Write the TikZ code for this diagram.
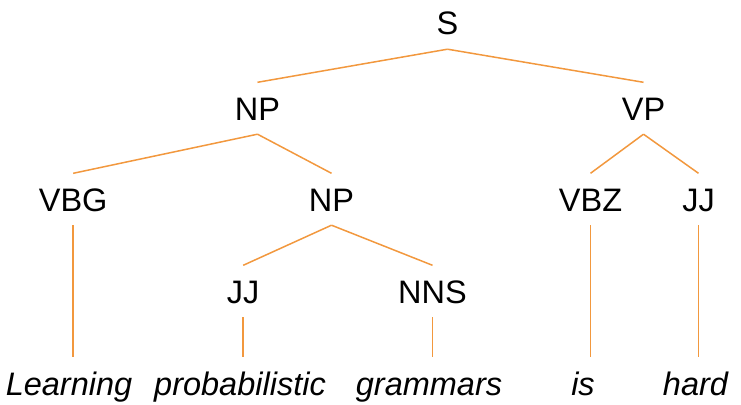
\documentclass[tikz,border=0pt]{standalone}
\usepackage{fontspec}
\setmainfont{Liberation Sans}
\definecolor{branch}{RGB}{242,152,62}
\begin{document}
\begin{tikzpicture}[x=1pt,y=-1pt,
    cat/.style={font=\fontsize{32.5}{39}\selectfont, anchor=base, inner xsep=0pt,
      inner ysep=14pt, text height=23.5pt, text depth=0pt},
    word/.style={cat, font=\fontsize{32.5}{39}\selectfont\itshape},
    edge/.style={draw=branch, line width=1.5pt}]
      \useasboundingbox (0,0) rectangle (741,404);
      % categories
      \node[cat] (S)    at (447.5,35)  {S};
      \node[cat] (NPa)  at (257.5,120) {NP};
      \node[cat] (VP)   at (643.5,120) {VP};
      \node[cat] (VBG)  at (73.2,211)  {VBG};
      \node[cat] (NPb)  at (331.5,211) {NP};
      \node[cat] (VBZ)  at (590.5,211) {VBZ};
      \node[cat] (JJb)  at (698.5,211) {JJ};
      \node[cat] (JJa)  at (243.2,303) {JJ};
      \node[cat] (NNS)  at (432.5,303) {NNS};
      % words
      \node[word] (learning) at (69,395)    {Learning};
      \node[word] (prob)     at (240,395)   {probabilistic};
      \node[word] (gram)     at (429,395)   {grammars};
      \node[word] (is)       at (583,395)   {is};
      \node[word] (hard)     at (695.5,395) {hard};
      % branches
      \draw[edge] (S.south) -- (NPa.north);
      \draw[edge] (S.south) -- (VP.north);
      \draw[edge] (NPa.south) -- (VBG.north);
      \draw[edge] (NPa.south) -- (NPb.north);
      \draw[edge] (VP.south) -- (VBZ.north);
      \draw[edge] (VP.south) -- (JJb.north);
      \draw[edge] (NPb.south) -- (JJa.north);
      \draw[edge] (NPb.south) -- (NNS.north);
      \draw[edge] (VBG.south) -- (VBG.south |- learning.north);
      \draw[edge] (JJa.south) -- (JJa.south |- prob.north);
      \draw[edge] (NNS.south) -- (NNS.south |- gram.north);
      \draw[edge] (VBZ.south) -- (VBZ.south |- is.north);
      \draw[edge] (JJb.south) -- (JJb.south |- hard.north);
\end{tikzpicture}
\end{document}
